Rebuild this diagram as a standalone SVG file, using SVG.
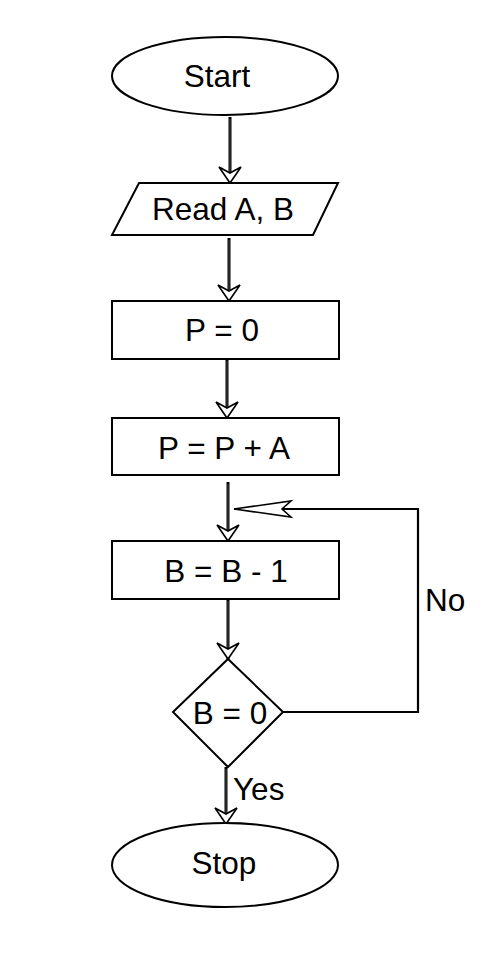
<svg xmlns="http://www.w3.org/2000/svg" width="492" height="953" viewBox="0 0 492 953">
  <style>
    .shape { fill: #ffffff; stroke: #000000; stroke-width: 2; }
    .label { font-family: "Liberation Sans", Arial, sans-serif; font-size: 31.5px; fill: #000000; }
    .mid { text-anchor: middle; }
    .flow { fill: none; stroke: #000000; stroke-width: 3; }
    .flow-core { fill: none; stroke: #6a6a6a; stroke-width: 0.7; }
    .loop { fill: none; stroke: #000000; stroke-width: 2.2; }
  </style>
  <defs>
    <marker id="head" markerUnits="userSpaceOnUse" viewBox="-18 -12 20 24" refX="0" refY="0" markerWidth="20" markerHeight="24" orient="auto">
      <path d="M0,0 L-16,-11 L-10,0 L-16,11 Z" fill="#ffffff" stroke="#000000" stroke-width="1.6" stroke-linejoin="miter"/>
    </marker>
    <marker id="headLong" markerUnits="userSpaceOnUse" viewBox="-60 -10 62 20" refX="0" refY="0" markerWidth="62" markerHeight="20" orient="auto">
      <path d="M0,0 L-57,-8 L-48,0 L-57,8 Z" fill="#ffffff" stroke="#000000" stroke-width="1.6" stroke-linejoin="miter"/>
    </marker>
  </defs>

  <!-- connectors -->
  <g id="connectors">
    <path class="flow" d="M230,117 V183" marker-end="url(#head)"/>
    <path class="flow-core" d="M230,119 V172"/>
    <path class="flow" d="M229,238 V301" marker-end="url(#head)"/>
    <path class="flow-core" d="M229,240 V290"/>
    <path class="flow" d="M227,359 V418" marker-end="url(#head)"/>
    <path class="flow-core" d="M227,361 V407"/>
    <path class="flow" d="M228,482 V541" marker-end="url(#head)"/>
    <path class="flow-core" d="M228,484 V530"/>
    <path class="flow" d="M228,599 V659" marker-end="url(#head)"/>
    <path class="flow-core" d="M228,601 V648"/>
    <path class="flow" d="M226,767 V824" marker-end="url(#head)"/>
    <path class="flow-core" d="M226,769 V813"/>
    <path class="loop" d="M283,712 H418 V509 H234" marker-end="url(#headLong)"/>
    <text class="label" x="425" y="611">No</text>
    <text class="label" x="233" y="800">Yes</text>
  </g>

  <g id="start">
    <ellipse class="shape" cx="225" cy="76" rx="113" ry="39"/>
    <text class="label mid" x="217" y="87">Start</text>
  </g>

  <g id="read">
    <polygon class="shape" points="139,183 338,183 313,235 112,235"/>
    <text class="label mid" x="223" y="220">Read A, B</text>
  </g>

  <g id="init">
    <rect class="shape" x="112" y="301" width="227" height="58"/>
    <text class="label mid" x="222" y="341">P = 0</text>
  </g>

  <g id="add">
    <rect class="shape" x="112" y="418" width="227" height="57"/>
    <text class="label mid" x="224" y="459">P = P + A</text>
  </g>

  <g id="dec">
    <rect class="shape" x="112" y="541" width="227" height="58"/>
    <text class="label mid" x="226" y="582">B = B - 1</text>
  </g>

  <g id="test">
    <polygon class="shape" points="228,659 283,712 228,767 173,712"/>
    <text class="label mid" x="230" y="724">B = 0</text>
  </g>

  <g id="stop">
    <ellipse class="shape" cx="225" cy="865" rx="113" ry="42"/>
    <text class="label mid" x="224" y="874">Stop</text>
  </g>
</svg>
